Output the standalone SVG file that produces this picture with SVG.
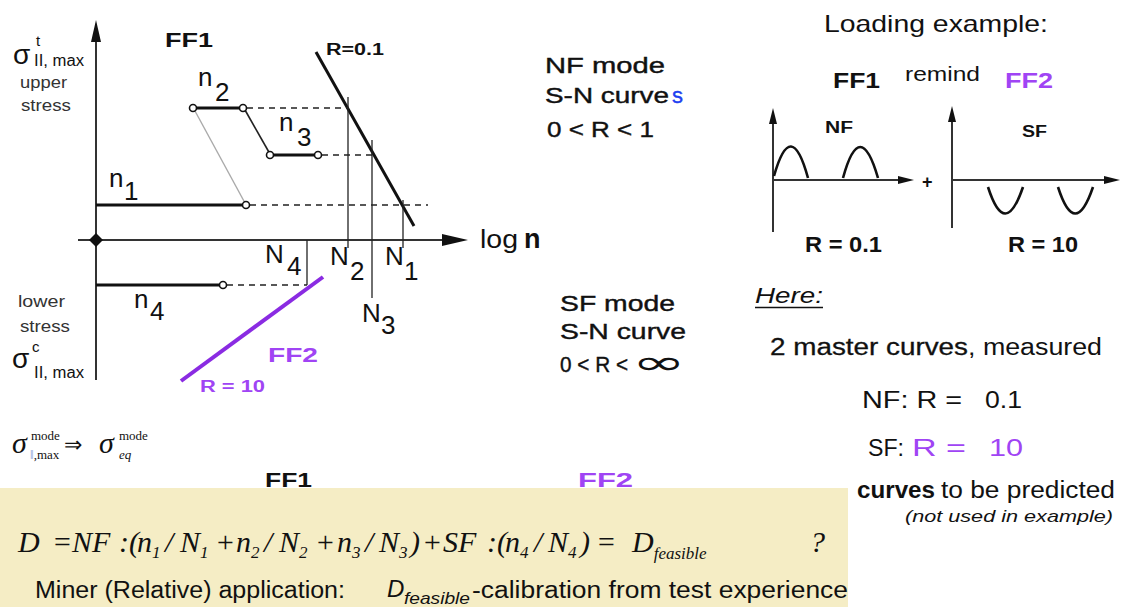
<svg xmlns="http://www.w3.org/2000/svg" width="1121" height="607" viewBox="0 0 1121 607">
<style>
text{font-family:"Liberation Sans",Arial,sans-serif;fill:#111}
.b{font-weight:bold}
.p{fill:#a044f4}
.ser{font-family:"Liberation Serif","Times New Roman",serif;font-style:italic}
.ax{stroke:#333;stroke-width:2;fill:none}
.bar{stroke:#111;stroke-width:3;fill:none}
.dash{stroke:#222;stroke-width:1.5;stroke-dasharray:6 5;fill:none}
.thin{stroke:#222;stroke-width:1.3;fill:none}
.oc{fill:#fff;stroke:#111;stroke-width:1.6}
.lbl{font-size:26px}
.sl{font-size:17px;fill:#333}
.mid{font-size:22px;stroke:#111;stroke-width:0.4}
.wave{stroke:#111;stroke-width:2.6;fill:none}
</style>

<g id="axes">
<line class="ax" x1="96" y1="380" x2="96" y2="40"/>
<path d="M96,20 L91,42 L101,42 z" fill="#111"/>
<line class="ax" x1="78" y1="240" x2="445" y2="240"/>
<path d="M468,240 L442,234 L442,246 z" fill="#111"/>
<path d="M96,233 L103,240 L96,247 L89,240 z" fill="#111"/>
<text x="480" y="248" font-size="25" textLength="38" lengthAdjust="spacingAndGlyphs">log</text>
<text x="524" y="248" font-size="27" class="b">n</text>
</g>

<g id="connectors">
<line x1="316" y1="52" x2="414" y2="226" stroke="#111" stroke-width="3"/>
<line x1="195" y1="111" x2="245" y2="203" stroke="#aaa" stroke-width="1.4"/>
<line x1="245" y1="110" x2="270" y2="154" stroke="#222" stroke-width="1.6"/>
<line class="dash" x1="247" y1="108" x2="348" y2="108"/>
<line class="dash" x1="322" y1="155" x2="372" y2="155"/>
<line class="dash" x1="250" y1="205" x2="428" y2="205"/>
<line class="dash" x1="227" y1="285" x2="307" y2="285"/>
<line class="thin" x1="348" y1="97" x2="348" y2="248"/>
<line class="thin" x1="372" y1="140" x2="372" y2="298"/>
<line class="thin" x1="403" y1="200" x2="403" y2="248"/>
<line class="thin" x1="307" y1="240" x2="307" y2="285"/>
<line x1="181" y1="381" x2="323" y2="277" stroke="#8a2be2" stroke-width="4"/>
</g>

<g id="blocks">
<line class="bar" x1="96" y1="205" x2="243" y2="205"/>
<line class="bar" x1="193" y1="108" x2="243" y2="108"/>
<line class="bar" x1="270" y1="155" x2="318" y2="155"/>
<line class="bar" x1="96" y1="285" x2="220" y2="285"/>
<circle class="oc" cx="193" cy="108" r="3.5"/>
<circle class="oc" cx="243" cy="108" r="3.5"/>
<circle class="oc" cx="270" cy="155" r="3.5"/>
<circle class="oc" cx="318" cy="155" r="3.5"/>
<circle class="oc" cx="246" cy="205" r="3.5"/>
<circle class="oc" cx="223" cy="285" r="3.5"/>
</g>

<g id="labels-chart">
<text x="165" y="47" font-size="21" class="b" textLength="48" lengthAdjust="spacingAndGlyphs">FF1</text>
<text x="326" y="55" font-size="16" class="b" textLength="58" lengthAdjust="spacingAndGlyphs">R=0.1</text>
<text class="lbl" x="109" y="187">n</text><text class="lbl" x="124" y="200">1</text>
<text class="lbl" x="198" y="86">n</text><text class="lbl" x="215" y="101">2</text>
<text class="lbl" x="279" y="131">n</text><text class="lbl" x="297" y="146">3</text>
<text class="lbl" x="134" y="308">n</text><text class="lbl" x="150" y="320">4</text>
<text class="lbl" x="265" y="263">N</text><text class="lbl" x="287" y="275">4</text>
<text class="lbl" x="330" y="265">N</text><text class="lbl" x="350" y="280">2</text>
<text class="lbl" x="385" y="265">N</text><text class="lbl" x="404" y="280">1</text>
<text class="lbl" x="362" y="322">N</text><text class="lbl" x="381" y="334">3</text>
<text x="268" y="362" font-size="21" class="b p" textLength="50" lengthAdjust="spacingAndGlyphs">FF2</text>
<text x="200" y="392" font-size="16" class="b p" textLength="65" lengthAdjust="spacingAndGlyphs">R = 10</text>
</g>

<g id="axis-labels">
<text x="13" y="64" font-size="28" fill="#222">σ</text>
<text x="36" y="46" font-size="15" fill="#222">t</text>
<text x="34" y="66" font-size="16" fill="#333" textLength="50" lengthAdjust="spacingAndGlyphs">II, max</text>
<text class="sl" x="20" y="88" textLength="47" lengthAdjust="spacingAndGlyphs">upper</text>
<text class="sl" x="21" y="111" textLength="50" lengthAdjust="spacingAndGlyphs">stress</text>
<text class="sl" x="18" y="307" textLength="47" lengthAdjust="spacingAndGlyphs">lower</text>
<text class="sl" x="20" y="332" textLength="50" lengthAdjust="spacingAndGlyphs">stress</text>
<text x="12" y="368" font-size="28" fill="#222">σ</text>
<text x="32" y="352" font-size="15" fill="#222">c</text>
<text x="34" y="378" font-size="16" fill="#333" textLength="50" lengthAdjust="spacingAndGlyphs">II, max</text>
</g>

<g id="mode-text">
<text class="mid" x="545" y="73" textLength="120" lengthAdjust="spacingAndGlyphs">NF  mode</text>
<text class="mid" x="545" y="103" textLength="124" lengthAdjust="spacingAndGlyphs">S-N curve</text>
<text class="mid" x="672" y="103" style="fill:#2040f0;stroke:#2040f0">s</text>
<text class="mid" x="547" y="137" textLength="107" lengthAdjust="spacingAndGlyphs">0 &lt; R &lt; 1</text>
<text class="mid" x="560" y="311" textLength="115" lengthAdjust="spacingAndGlyphs">SF mode</text>
<text class="mid" x="560" y="339" textLength="126" lengthAdjust="spacingAndGlyphs">S-N curve</text>
<text class="mid" x="560" y="372" textLength="68" lengthAdjust="spacingAndGlyphs">0 &lt; R &lt;</text>
<text x="632" y="374" font-size="34" fill="#2a2f6e" style="font-family:'DejaVu Sans',sans-serif" textLength="54" lengthAdjust="spacingAndGlyphs">∞</text>
</g>

<g id="loading-example">
<text x="824" y="32" font-size="24" textLength="224" lengthAdjust="spacingAndGlyphs">Loading example:</text>
<text x="833" y="88" font-size="22" class="b" textLength="47" lengthAdjust="spacingAndGlyphs">FF1</text>
<text x="905" y="81" font-size="20" textLength="75" lengthAdjust="spacingAndGlyphs">remind</text>
<text x="1005" y="88" font-size="22" class="b p" textLength="48" lengthAdjust="spacingAndGlyphs">FF2</text>
</g>

<g id="nf-chart">
<line class="ax" x1="773" y1="232" x2="773" y2="118"/>
<path d="M773,108 L769,124 L777,124 z" fill="#111"/>
<line class="ax" x1="773" y1="180" x2="900" y2="180"/>
<path d="M914,180 L898,176 L898,184 z" fill="#111"/>
<path class="wave" d="M774,176 Q791,116 808,178"/>
<path class="wave" d="M843,178 Q860,116 878,178"/>
<text x="825" y="133" font-size="16" class="b" textLength="28" lengthAdjust="spacingAndGlyphs">NF</text>
<text x="805" y="252" font-size="22" class="b" textLength="77" lengthAdjust="spacingAndGlyphs">R = 0.1</text>
</g>
<text x="922" y="188" font-size="18" class="b" fill="#333">+</text>
<g id="sf-chart">
<line class="ax" x1="952" y1="228" x2="952" y2="116"/>
<path d="M952,106 L948,122 L956,122 z" fill="#111"/>
<line class="ax" x1="952" y1="180" x2="1106" y2="180"/>
<path d="M1120,180 L1104,176 L1104,184 z" fill="#111"/>
<path class="wave" d="M988,187 Q1005,240 1023,187"/>
<path class="wave" d="M1058,187 Q1075,240 1093,187"/>
<text x="1022" y="137" font-size="16" class="b" textLength="25" lengthAdjust="spacingAndGlyphs">SF</text>
<text x="1008" y="252" font-size="22" class="b" textLength="70" lengthAdjust="spacingAndGlyphs">R = 10</text>
</g>

<g id="here">
<text x="755" y="303" font-size="22" font-style="italic" textLength="68" lengthAdjust="spacingAndGlyphs">Here:</text>
<line x1="755" y1="307.5" x2="823" y2="307.5" stroke="#111" stroke-width="1.5"/>
<text x="770" y="355" font-size="23" style="stroke:#111;stroke-width:0.3" textLength="198" lengthAdjust="spacingAndGlyphs">2 master curves</text>
<text x="968" y="355" font-size="23" textLength="134" lengthAdjust="spacingAndGlyphs">, measured</text>
<text x="862" y="408" font-size="23" textLength="100" lengthAdjust="spacingAndGlyphs">NF: R =</text>
<text x="985" y="408" font-size="23" textLength="37" lengthAdjust="spacingAndGlyphs">0.1</text>
<text x="868" y="456" font-size="23" textLength="36" lengthAdjust="spacingAndGlyphs">SF:</text>
<text x="912" y="456" font-size="23" class="p" textLength="54" lengthAdjust="spacingAndGlyphs">R =</text>
<text x="989" y="456" font-size="23" class="p" textLength="34" lengthAdjust="spacingAndGlyphs">10</text>
<text x="857" y="498" font-size="23" class="b" textLength="78" lengthAdjust="spacingAndGlyphs">curves</text>
<text x="941" y="498" font-size="23" textLength="174" lengthAdjust="spacingAndGlyphs">to be predicted</text>
<text x="905" y="522" font-size="17" font-style="italic" textLength="208" lengthAdjust="spacingAndGlyphs">(not used in example)</text>
</g>

<g id="sigma-eq">
<text class="ser" x="12" y="453" font-size="30">σ</text>
<text x="31" y="440" font-size="13" style="font-family:'Liberation Serif',serif">mode</text>
<text x="30" y="459" font-size="13" style="font-family:'Liberation Serif',serif"><tspan fill="#8aa0d0">ǁ</tspan>,max</text>
<text x="64" y="452" font-size="22" style="font-family:'Liberation Serif',serif">⇒</text>
<text class="ser" x="99" y="453" font-size="30">σ</text>
<text x="119" y="440" font-size="13" style="font-family:'Liberation Serif',serif">mode</text>
<text class="ser" x="119" y="459" font-size="13">eq</text>
</g>

<g id="damage-box">
<rect x="0" y="488" width="848" height="119" fill="#f5edc5"/>
<text x="265" y="487" font-size="20" class="b" textLength="47" lengthAdjust="spacingAndGlyphs">FF1</text>
<text x="578" y="487" font-size="20" class="b p" textLength="55" lengthAdjust="spacingAndGlyphs">FF2</text>
<text class="ser" y="552" font-size="30"><tspan x="18">D</tspan><tspan x="52">=</tspan><tspan x="72">NF</tspan><tspan x="119">:</tspan><tspan x="129">(</tspan><tspan x="137">n</tspan><tspan font-size="17" dy="6">1</tspan><tspan dy="-6" x="165">/</tspan><tspan x="180">N</tspan><tspan font-size="17" dy="6">1</tspan><tspan dy="-6" x="215">+</tspan><tspan x="236">n</tspan><tspan font-size="17" dy="6">2</tspan><tspan dy="-6" x="264">/</tspan><tspan x="279">N</tspan><tspan font-size="17" dy="6">2</tspan><tspan dy="-6" x="315">+</tspan><tspan x="337">n</tspan><tspan font-size="17" dy="6">3</tspan><tspan dy="-6" x="365">/</tspan><tspan x="379">N</tspan><tspan font-size="17" dy="6">3</tspan><tspan dy="-6" x="410">)</tspan><tspan x="422">+</tspan><tspan x="443">SF</tspan><tspan x="487">:</tspan><tspan x="497">(</tspan><tspan x="505">n</tspan><tspan font-size="17" dy="6">4</tspan><tspan dy="-6" x="534">/</tspan><tspan x="548">N</tspan><tspan font-size="17" dy="6">4</tspan><tspan dy="-6" x="580">)</tspan><tspan x="596">=</tspan><tspan x="632">D</tspan><tspan font-size="17" dy="7">feasible</tspan><tspan dy="-7" x="810">?</tspan></text>
<text x="35" y="598" font-size="23" fill="#222" textLength="310" lengthAdjust="spacingAndGlyphs">Miner (Relative) application:</text>
<text x="387" y="597" font-size="24" font-style="italic" fill="#222">D</text>
<text x="404" y="604" font-size="17" font-style="italic" fill="#222" textLength="66" lengthAdjust="spacingAndGlyphs">feasible</text>
<text x="472" y="598" font-size="23" fill="#222" textLength="376" lengthAdjust="spacingAndGlyphs">-calibration  from test experience</text>
</g>
</svg>
